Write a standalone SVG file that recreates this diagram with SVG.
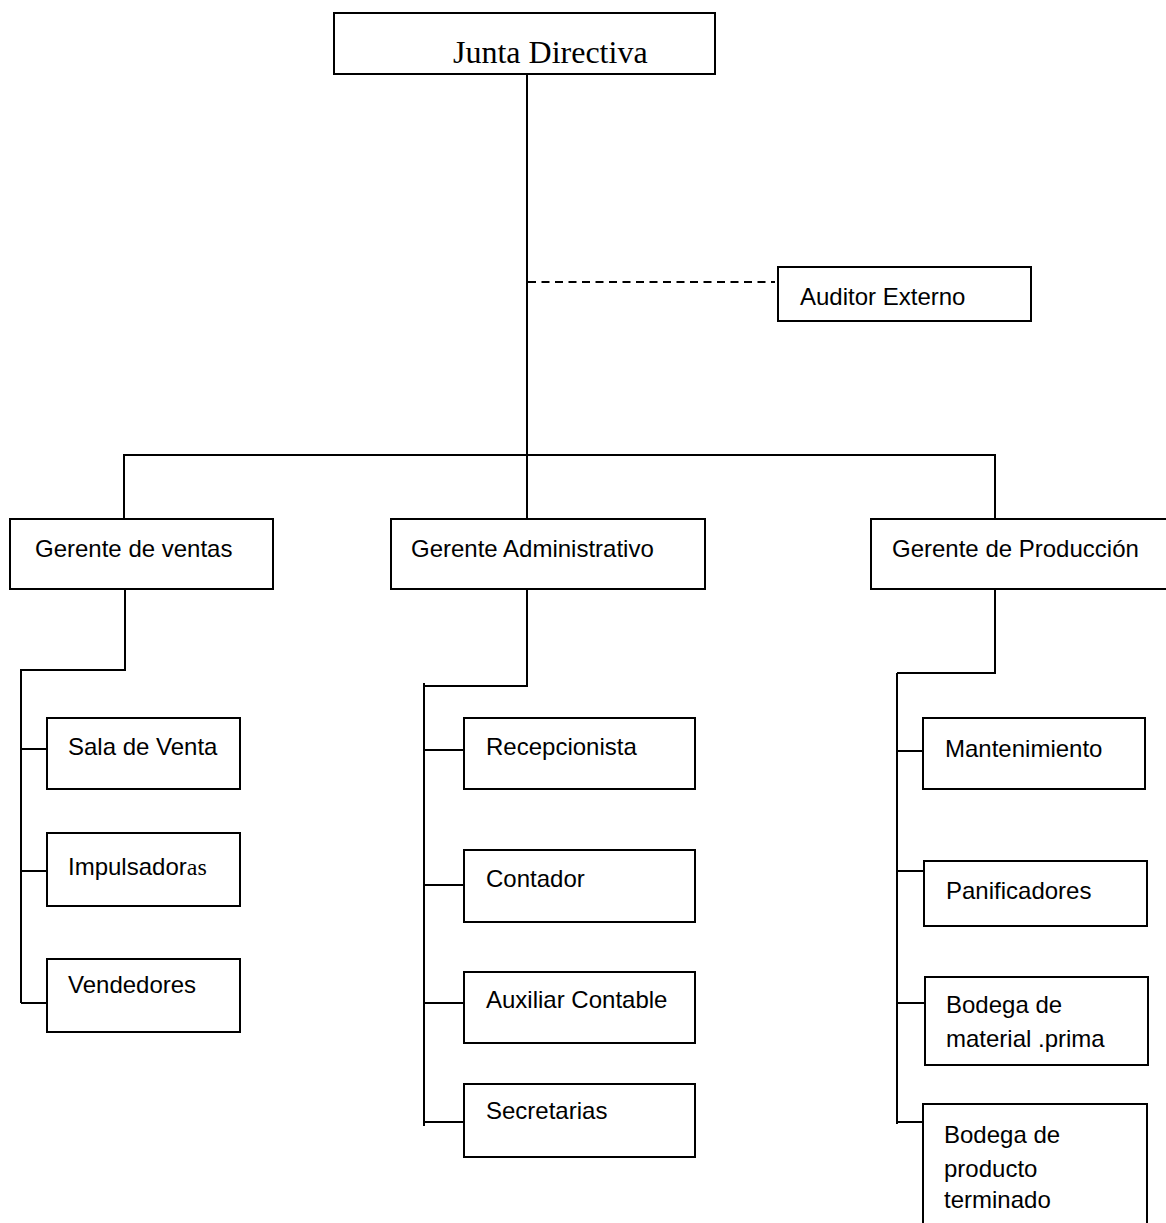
<svg xmlns="http://www.w3.org/2000/svg" width="1166" height="1223" viewBox="0 0 1166 1223">
<style>
.box{fill:#fff;stroke:#000;stroke-width:2}
.ln{fill:none;stroke:#000;stroke-width:2}
.dash{fill:none;stroke:#000;stroke-width:2;stroke-dasharray:8 5.5}
.t{font-family:"Liberation Sans",Arial,sans-serif;font-size:24px;fill:#000}
.s{font-family:"Liberation Serif","Times New Roman",serif;fill:#000}
</style>
<rect width="1166" height="1223" fill="#fff"/>
<g id="connectors">
<path class="ln" d="M527 74V455"/>
<path class="dash" d="M528 282H775"/>
<path class="ln" d="M124 519V455H995V519"/>
<path class="ln" d="M527 455V519"/>
<path class="ln" d="M125 589V670H21"/>
<path class="ln" d="M21 669V1003"/>
<path class="ln" d="M21 749H47M21 871H47M21 1003H47"/>
<path class="ln" d="M527 589V686H424"/>
<path class="ln" d="M424 683V1126"/>
<path class="ln" d="M424 750H464M424 885H464M424 1003H464M424 1122H464"/>
<path class="ln" d="M995 589V673H897"/>
<path class="ln" d="M897 673V1124"/>
<path class="ln" d="M897 751H923M897 871H924M897 1003H925M897 1122H923"/>
</g>
<g id="junta"><rect class="box" x="334" y="13" width="381" height="61"/><text class="s" x="453" y="63" font-size="32">Junta Directiva</text></g>
<g id="auditor"><rect class="box" x="778" y="267" width="253" height="54"/><text class="t" x="800" y="305">Auditor Externo</text></g>
<g id="g-ventas"><rect class="box" x="10" y="519" width="263" height="70"/><text class="t" x="35" y="557">Gerente de ventas</text></g>
<g id="g-admin"><rect class="box" x="391" y="519" width="314" height="70"/><text class="t" x="411" y="557">Gerente Administrativo</text></g>
<g id="g-prod"><rect class="box" x="871" y="519" width="300" height="70"/><text class="t" x="892" y="557">Gerente de Producción</text></g>
<g id="sala"><rect class="box" x="47" y="718" width="193" height="71"/><text class="t" x="68" y="755">Sala de Venta</text></g>
<g id="impuls"><rect class="box" x="47" y="833" width="193" height="73"/><text class="t" x="68" y="875">Impulsador<tspan class="s" font-size="24">as</tspan></text></g>
<g id="vend"><rect class="box" x="47" y="959" width="193" height="73"/><text class="t" x="68" y="993">Vendedores</text></g>
<g id="recep"><rect class="box" x="464" y="718" width="231" height="71"/><text class="t" x="486" y="755">Recepcionista</text></g>
<g id="contador"><rect class="box" x="464" y="850" width="231" height="72"/><text class="t" x="486" y="887">Contador</text></g>
<g id="auxiliar"><rect class="box" x="464" y="972" width="231" height="71"/><text class="t" x="486" y="1008">Auxiliar Contable</text></g>
<g id="secret"><rect class="box" x="464" y="1084" width="231" height="73"/><text class="t" x="486" y="1119">Secretarias</text></g>
<g id="mant"><rect class="box" x="923" y="718" width="222" height="71"/><text class="t" x="945" y="757">Mantenimiento</text></g>
<g id="panif"><rect class="box" x="924" y="861" width="223" height="65"/><text class="t" x="946" y="899">Panificadores</text></g>
<g id="bod-mp"><rect class="box" x="925" y="977" width="223" height="88"/><text class="t" x="946" y="1013">Bodega de</text><text class="t" x="946" y="1047">material .prima</text></g>
<g id="bod-pt"><rect class="box" x="923" y="1104" width="224" height="130"/><text class="t" x="944" y="1143">Bodega de</text><text class="t" x="944" y="1177">producto</text><text class="t" x="944" y="1208">terminado</text></g>
</svg>
